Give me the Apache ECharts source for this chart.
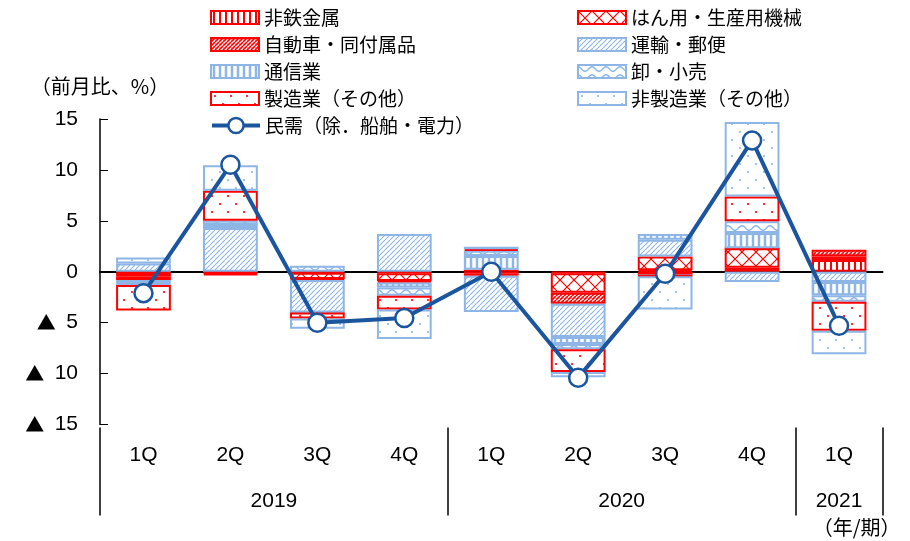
<!DOCTYPE html>
<html>
<head>
<meta charset="utf-8">
<script src="https://cdn.jsdelivr.net/npm/echarts@6/dist/echarts.min.js"></script>
<style>
  html, body { margin: 0; padding: 0; background: #fff; }
  #chart { width: 910px; height: 541px; }
</style>
</head>
<body>
<div id="chart"></div>
<script>
// Quarterly contributions to private demand (excl. ships & electric power), % q/q
const quarters = ['1Q', '2Q', '3Q', '4Q', '1Q', '2Q', '3Q', '4Q', '1Q'];
const yearLabels = ['2019', '2020', '2021'];
const yearCenters = [2, 6, 8.5];
const yearBounds = [0, 4, 8, 9];

const nonFerrous     = [-0.1, -0.1, -0.1, -0.15,  0.2, -0.15,  0.15,  0.4,  1.15];
const generalMach    = [-0.4, -0.1, -0.6, -0.75, -0.2, -1.9,   1.35,  1.9,  0.35];
const autos          = [-0.3, -0.15, -0.1, -0.15, -0.2, -1.1, -0.35,  0.0,  0.65];
const transport      = [ 0.8,  4.3, -3.2,  3.7, -3.55, -3.25,  1.65, -1.0, -1.0];
const telecom        = [-0.2,  0.3,  0.0, -0.5,  1.35, -0.7,   0.55,  1.5, -1.3];
const wholesale      = [-0.3,  0.4,  0.6, -0.8,  0.5, -0.5,  -0.05,  1.15, -0.65];
const mfgOther       = [-2.5,  2.95, -0.6, -1.35, 0.15, -2.25, -0.05, 2.45, -2.85];
const nonMfgOther    = [ 0.6,  2.5, -1.0, -2.9,  0.25, -0.5,  -3.25,  7.3, -2.3];
const privateDemand  = [-2.1, 10.5, -5.0, -4.55, 0.0, -10.4, -0.2, 12.9, -5.3];

const RED = '#FF0000';
const BLUE = '#8DB6E6';
const NAVY = '#1A559E';
const NUM_FONT = "'Liberation Sans', 'Noto Sans CJK JP', sans-serif";
const JP_FONT = "'Noto Sans CJK JP', sans-serif";
const LINE_NAME = '民需（除．船舶・電力）';

// ---- fill patterns ----
function makePattern(w, h, draw) {
  const c = document.createElement('canvas');
  c.width = w; c.height = h;
  const g = c.getContext('2d');
  g.fillStyle = '#ffffff';
  g.fillRect(0, 0, w, h);
  draw(g);
  return { image: c, repeat: 'repeat' };
}
function vLines(color, step, width) {
  return makePattern(step, step, g => {
    g.fillStyle = color;
    g.fillRect((step - width) / 2, 0, width, step);
  });
}
function diagLines(color, step, width) {
  return makePattern(step, step, g => {
    g.strokeStyle = color; g.lineWidth = width;
    g.beginPath();
    for (let k = -1; k <= 1; k++) {
      g.moveTo(k * step, step);
      g.lineTo(k * step + step, 0);
    }
    g.stroke();
  });
}
function crossLines(color, step, width) {
  return makePattern(step, step, g => {
    g.strokeStyle = color; g.lineWidth = width;
    g.beginPath();
    g.moveTo(0, 0); g.lineTo(step, step);
    g.moveTo(0, step); g.lineTo(step, 0);
    g.stroke();
  });
}
function waves(color, w, h, width) {
  return makePattern(w, h, g => {
    g.strokeStyle = color; g.lineWidth = width;
    g.beginPath();
    for (let x = 0; x <= w; x += 0.5) {
      const y = h / 2 - 2.2 * Math.cos(2 * Math.PI * x / w);
      if (x === 0) g.moveTo(x, y); else g.lineTo(x, y);
    }
    g.stroke();
  });
}
function dots(color, step, r) {
  return makePattern(step, step, g => {
    g.fillStyle = color;
    [[step / 4, step / 4], [step * 3 / 4, step * 3 / 4]].forEach(([x, y]) => {
      g.beginPath(); g.arc(x, y, r, 0, Math.PI * 2); g.fill();
    });
  });
}

function barSeries(name, data, fill, border) {
  return {
    name, type: 'bar', stack: 'total', data,
    barWidth: '63%',
    itemStyle: { color: fill, borderColor: border, borderWidth: 2 },
    emphasis: { disabled: true }
  };
}

const series = [
  barSeries('非鉄金属', nonFerrous, vLines(RED, 6, 2), RED),
  barSeries('はん用・生産用機械', generalMach, crossLines(RED, 14, 1.2), RED),
  barSeries('自動車・同付属品', autos, diagLines(RED, 4, 1.6), RED),
  barSeries('運輸・郵便', transport, diagLines(BLUE, 5, 1.1), BLUE),
  barSeries('通信業', telecom, vLines(BLUE, 6, 2.5), BLUE),
  barSeries('卸・小売', wholesale, waves(BLUE, 14, 8, 1.5), BLUE),
  barSeries('製造業（その他）', mfgOther, dots(RED, 16, 1.1), RED),
  barSeries('非製造業（その他）', nonMfgOther, dots(BLUE, 16, 1.1), BLUE),
  {
    name: LINE_NAME, type: 'line', data: privateDemand,
    symbol: 'circle', symbolSize: 18, z: 5,
    lineStyle: { color: NAVY, width: 4 },
    itemStyle: { color: '#ffffff', borderColor: NAVY, borderWidth: 2.5 },
    emphasis: { disabled: true }
  }
];

const legendText = { fontSize: 19, fontFamily: JP_FONT, color: '#000' };
const legendCommon = {
  orient: 'vertical', itemWidth: 48, itemHeight: 13, itemGap: 8, padding: 0,
  selectedMode: false, textStyle: legendText
};

const chart = echarts.init(document.getElementById('chart'));
chart.setOption({
  animation: false,
  backgroundColor: '#ffffff',
  grid: { left: 100, right: 27.5, top: 119, bottom: 116.5 },
  legend: [
    Object.assign({ left: 210, top: 8, data: [
      { name: '非鉄金属', icon: 'rect' },
      { name: '自動車・同付属品', icon: 'rect' },
      { name: '通信業', icon: 'rect' },
      { name: '製造業（その他）', icon: 'rect' }
    ] }, legendCommon),
    Object.assign({ left: 577, top: 8, data: [
      { name: 'はん用・生産用機械', icon: 'rect' },
      { name: '運輸・郵便', icon: 'rect' },
      { name: '卸・小売', icon: 'rect' },
      { name: '非製造業（その他）', icon: 'rect' }
    ] }, legendCommon),
    Object.assign({}, legendCommon, {
      left: 210, top: 116, itemHeight: 19, data: [LINE_NAME],
      lineStyle: { width: 4, color: NAVY },
      itemStyle: { color: '#ffffff', borderColor: NAVY, borderWidth: 2.5 }
    })
  ],
  xAxis: [
    {
      type: 'category', data: quarters,
      axisLine: { onZero: true, lineStyle: { color: '#000', width: 2 } },
      axisTick: { show: false }, axisLabel: { show: false }
    },
    {
      type: 'category', data: quarters, position: 'bottom',
      axisLine: { show: false, onZero: false }, axisTick: { show: false },
      axisLabel: { margin: 20, fontSize: 21, color: '#000', fontFamily: NUM_FONT }
    },
    {
      type: 'value', min: 0, max: 9, position: 'bottom', offset: 3,
      axisLine: { show: false, onZero: false },
      splitLine: { show: false },
      axisTick: { show: true, customValues: yearBounds, length: 88,
                  lineStyle: { color: '#000', width: 1.5 } },
      axisLabel: {
        customValues: yearCenters, margin: 63, fontSize: 21, color: '#000', fontFamily: NUM_FONT,
        formatter: v => yearLabels[yearCenters.indexOf(v)] || ''
      },
      name: '（年/期）', nameLocation: 'end', nameGap: 18,
      nameTextStyle: { align: 'right', verticalAlign: 'top', padding: [90, 0, 0, 0],
                       fontSize: 20, color: '#000', fontFamily: JP_FONT }
    }
  ],
  yAxis: {
    type: 'value', min: -15, max: 15, interval: 5,
    axisLine: { show: true, lineStyle: { color: '#000', width: 1.5 } },
    axisTick: { show: true, inside: true, length: 8, lineStyle: { color: '#000' } },
    splitLine: { show: false },
    axisLabel: {
      margin: 22, fontSize: 21, color: '#000', fontFamily: NUM_FONT,
      formatter: v => v < 0 ? '{tri|▲}\u2002' + (-v) : String(v),
      rich: {
        tri: { fontSize: 19, fontFamily: JP_FONT, color: '#000' }
      }
    },
    name: '（前月比、%）', nameLocation: 'end', nameGap: 23,
    nameTextStyle: { fontSize: 20, color: '#000', fontFamily: JP_FONT }
  },
  series
});
</script>
</body>
</html>
